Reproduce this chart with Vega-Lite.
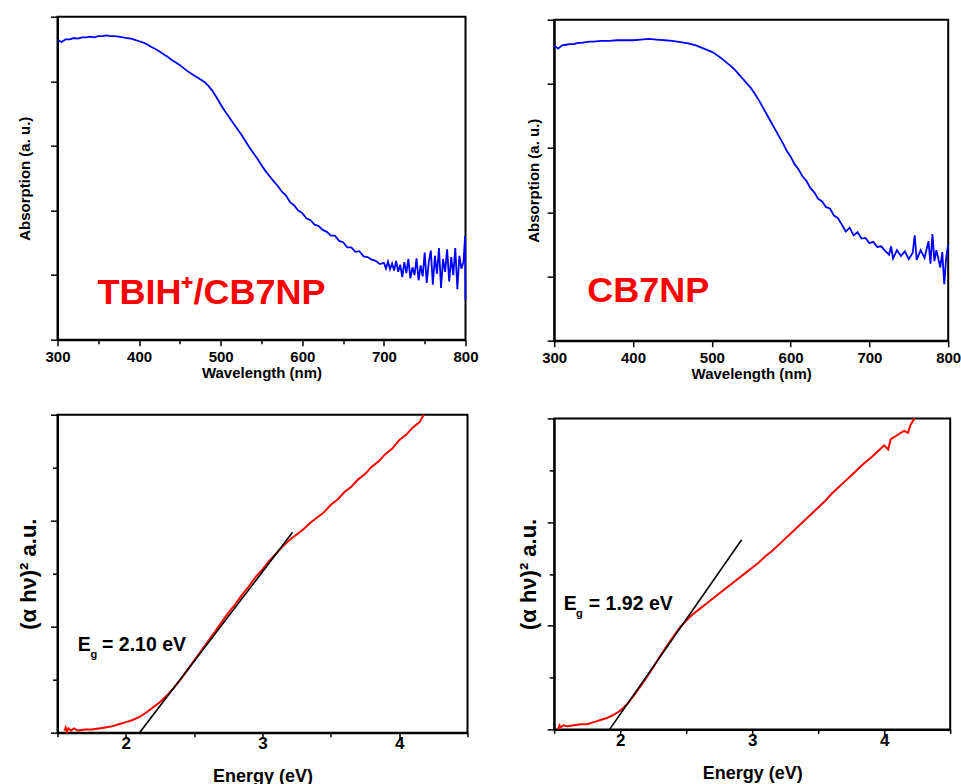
{
  "$schema": "https://vega.github.io/schema/vega-lite/v6.json",
  "padding": {"left": 15.5, "top": 14.7, "right": 0, "bottom": 0},
  "background": "white",
  "config": {
    "font": "Liberation Sans",
    "view": {"stroke": "black", "strokeWidth": 2},
    "axis": {"grid": false, "domainColor": "black", "domainWidth": 2, "tickColor": "black", "tickWidth": 1.5, "labelColor": "black", "titleColor": "black", "labelFontWeight": "bold", "titleFontWeight": "bold", "labelFont": "Liberation Sans", "titleFont": "Liberation Sans"}
  },
  "datasets": {
    "tl": [
      {"nm":300,"a":4.64},{"nm":305,"a":4.61},{"nm":310,"a":4.65},{"nm":315,"a":4.65},{"nm":320,"a":4.67},{"nm":325,"a":4.66},{"nm":330,"a":4.68},{"nm":335,"a":4.68},{"nm":340,"a":4.69},{"nm":345,"a":4.68},{"nm":350,"a":4.70},{"nm":355,"a":4.70},{"nm":360,"a":4.71},{"nm":365,"a":4.70},{"nm":370,"a":4.70},{"nm":375,"a":4.69},{"nm":380,"a":4.68},{"nm":385,"a":4.67},{"nm":390,"a":4.66},{"nm":395,"a":4.64},{"nm":400,"a":4.62},{"nm":405,"a":4.60},{"nm":410,"a":4.57},{"nm":415,"a":4.53},{"nm":420,"a":4.50},{"nm":425,"a":4.46},{"nm":430,"a":4.42},{"nm":435,"a":4.38},{"nm":440,"a":4.33},{"nm":445,"a":4.29},{"nm":450,"a":4.25},{"nm":455,"a":4.20},{"nm":460,"a":4.15},{"nm":465,"a":4.11},{"nm":470,"a":4.07},{"nm":475,"a":4.03},{"nm":480,"a":3.99},{"nm":485,"a":3.93},{"nm":490,"a":3.85},{"nm":495,"a":3.75},{"nm":500,"a":3.64},{"nm":505,"a":3.54},{"nm":510,"a":3.45},{"nm":515,"a":3.36},{"nm":520,"a":3.27},{"nm":525,"a":3.18},{"nm":530,"a":3.08},{"nm":535,"a":2.98},{"nm":540,"a":2.89},{"nm":545,"a":2.80},{"nm":550,"a":2.70},{"nm":555,"a":2.61},{"nm":560,"a":2.53},{"nm":565,"a":2.45},{"nm":570,"a":2.38},{"nm":575,"a":2.29},{"nm":580,"a":2.23},{"nm":585,"a":2.13},{"nm":590,"a":2.08},{"nm":595,"a":2.00},{"nm":600,"a":1.96},{"nm":605,"a":1.88},{"nm":610,"a":1.85},{"nm":615,"a":1.78},{"nm":620,"a":1.76},{"nm":625,"a":1.70},{"nm":630,"a":1.67},{"nm":635,"a":1.61},{"nm":640,"a":1.61},{"nm":645,"a":1.53},{"nm":650,"a":1.51},{"nm":655,"a":1.43},{"nm":660,"a":1.43},{"nm":665,"a":1.36},{"nm":670,"a":1.37},{"nm":675,"a":1.29},{"nm":680,"a":1.28},{"nm":685,"a":1.24},{"nm":690,"a":1.22},{"nm":695,"a":1.17},{"nm":700,"a":1.19},
      {"nm":702.5,"a":1.10},{"nm":705,"a":1.21},{"nm":707.5,"a":1.09},{"nm":710,"a":1.18},{"nm":712.5,"a":1.07},{"nm":715,"a":1.22},{"nm":717.5,"a":1.05},{"nm":720,"a":1.16},{"nm":722.5,"a":0.97},{"nm":725,"a":1.20},{"nm":727.5,"a":1.03},{"nm":730,"a":1.25},{"nm":732.5,"a":0.95},{"nm":735,"a":1.12},{"nm":737.5,"a":1.00},{"nm":740,"a":1.26},{"nm":742.5,"a":0.92},{"nm":745,"a":1.15},{"nm":747.5,"a":0.98},{"nm":750,"a":1.35},{"nm":752.5,"a":0.88},{"nm":755,"a":1.20},{"nm":757.5,"a":1.38},{"nm":760,"a":0.85},{"nm":762.5,"a":1.30},{"nm":765,"a":1.02},{"nm":767.5,"a":1.42},{"nm":770,"a":0.80},{"nm":772.5,"a":1.25},{"nm":775,"a":1.05},{"nm":777.5,"a":1.40},{"nm":780,"a":0.90},{"nm":782.5,"a":1.28},{"nm":785,"a":1.00},{"nm":787.5,"a":1.42},{"nm":790,"a":0.78},{"nm":792.5,"a":1.30},{"nm":795,"a":1.10},{"nm":797.5,"a":1.20},{"nm":799.5,"a":1.60},{"nm":800,"a":0.62}
    ],
    "tr": [
      {"nm":300,"a":4.60},{"nm":305,"a":4.55},{"nm":310,"a":4.60},{"nm":315,"a":4.61},{"nm":320,"a":4.62},{"nm":325,"a":4.62},{"nm":330,"a":4.64},{"nm":335,"a":4.64},{"nm":340,"a":4.65},{"nm":345,"a":4.66},{"nm":350,"a":4.66},{"nm":360,"a":4.67},{"nm":370,"a":4.67},{"nm":380,"a":4.68},{"nm":390,"a":4.68},{"nm":400,"a":4.68},{"nm":410,"a":4.69},{"nm":420,"a":4.70},{"nm":430,"a":4.69},{"nm":440,"a":4.68},{"nm":450,"a":4.67},{"nm":460,"a":4.65},{"nm":470,"a":4.63},{"nm":480,"a":4.60},{"nm":490,"a":4.55},{"nm":500,"a":4.50},{"nm":505,"a":4.46},{"nm":510,"a":4.42},{"nm":515,"a":4.37},{"nm":520,"a":4.32},{"nm":525,"a":4.27},{"nm":530,"a":4.21},{"nm":535,"a":4.14},{"nm":540,"a":4.07},{"nm":545,"a":4.00},{"nm":550,"a":3.93},{"nm":555,"a":3.84},{"nm":560,"a":3.74},{"nm":565,"a":3.63},{"nm":570,"a":3.52},{"nm":575,"a":3.41},{"nm":580,"a":3.30},{"nm":585,"a":3.19},{"nm":590,"a":3.08},{"nm":595,"a":2.96},{"nm":600,"a":2.87},{"nm":605,"a":2.75},{"nm":610,"a":2.67},{"nm":615,"a":2.56},{"nm":620,"a":2.49},{"nm":625,"a":2.38},{"nm":630,"a":2.31},{"nm":635,"a":2.21},{"nm":640,"a":2.17},{"nm":645,"a":2.08},{"nm":650,"a":2.06},{"nm":655,"a":1.95},{"nm":660,"a":1.91},{"nm":665,"a":1.81},{"nm":670,"a":1.70},{"nm":675,"a":1.76},{"nm":680,"a":1.64},{"nm":685,"a":1.69},{"nm":690,"a":1.59},{"nm":695,"a":1.60},{"nm":700,"a":1.52},{"nm":705,"a":1.54},{"nm":710,"a":1.46},{"nm":715,"a":1.47},{"nm":720,"a":1.40},{"nm":725,"a":1.34},{"nm":727.5,"a":1.47},{"nm":730,"a":1.28},{"nm":735,"a":1.41},{"nm":740,"a":1.32},{"nm":745,"a":1.39},{"nm":750,"a":1.27},{"nm":755,"a":1.37},{"nm":757.5,"a":1.64},{"nm":760,"a":1.26},{"nm":765,"a":1.41},{"nm":770,"a":1.29},{"nm":775,"a":1.55},{"nm":777.5,"a":1.20},{"nm":780,"a":1.66},{"nm":782.5,"a":1.24},{"nm":785,"a":1.41},{"nm":790,"a":1.14},{"nm":792.5,"a":1.38},{"nm":795,"a":0.88},{"nm":797.5,"a":1.30},{"nm":800,"a":1.50}
    ],
    "bl": [
      {"e":1.55,"v":0.02},{"e":1.56,"v":0.05},{"e":1.57,"v":0.01},{"e":1.58,"v":0.04},{"e":1.60,"v":0.02},{"e":1.62,"v":0.04},{"e":1.65,"v":0.02},{"e":1.70,"v":0.03},{"e":1.75,"v":0.03},{"e":1.80,"v":0.04},{"e":1.85,"v":0.05},{"e":1.90,"v":0.06},{"e":1.95,"v":0.08},{"e":2.00,"v":0.10},{"e":2.05,"v":0.12},{"e":2.10,"v":0.15},{"e":2.15,"v":0.19},{"e":2.20,"v":0.24},{"e":2.25,"v":0.29},{"e":2.30,"v":0.35},{"e":2.35,"v":0.42},{"e":2.40,"v":0.50},{"e":2.45,"v":0.59},{"e":2.50,"v":0.68},{"e":2.55,"v":0.77},{"e":2.60,"v":0.86},{"e":2.65,"v":0.95},{"e":2.70,"v":1.04},{"e":2.75,"v":1.13},{"e":2.80,"v":1.21},{"e":2.85,"v":1.30},{"e":2.90,"v":1.38},{"e":2.95,"v":1.47},{"e":3.00,"v":1.54},{"e":3.05,"v":1.62},{"e":3.10,"v":1.69},{"e":3.15,"v":1.76},{"e":3.20,"v":1.82},{"e":3.25,"v":1.87},{"e":3.30,"v":1.92},{"e":3.35,"v":1.98},{"e":3.40,"v":2.03},{"e":3.45,"v":2.08},{"e":3.50,"v":2.15},{"e":3.55,"v":2.20},{"e":3.60,"v":2.27},{"e":3.65,"v":2.32},{"e":3.70,"v":2.39},{"e":3.75,"v":2.44},{"e":3.80,"v":2.51},{"e":3.85,"v":2.56},{"e":3.90,"v":2.63},{"e":3.95,"v":2.68},{"e":4.00,"v":2.76},{"e":4.05,"v":2.81},{"e":4.10,"v":2.88},{"e":4.15,"v":2.93},{"e":4.18,"v":3.00}
    ],
    "br": [
      {"e":1.53,"v":0.00},{"e":1.54,"v":0.04},{"e":1.55,"v":0.02},{"e":1.57,"v":0.04},{"e":1.60,"v":0.03},{"e":1.65,"v":0.04},{"e":1.70,"v":0.05},{"e":1.75,"v":0.05},{"e":1.80,"v":0.07},{"e":1.85,"v":0.09},{"e":1.90,"v":0.11},{"e":1.95,"v":0.14},{"e":2.00,"v":0.18},{"e":2.05,"v":0.24},{"e":2.10,"v":0.32},{"e":2.15,"v":0.41},{"e":2.20,"v":0.50},{"e":2.25,"v":0.60},{"e":2.30,"v":0.70},{"e":2.35,"v":0.80},{"e":2.40,"v":0.89},{"e":2.45,"v":0.98},{"e":2.50,"v":1.05},{"e":2.55,"v":1.11},{"e":2.60,"v":1.16},{"e":2.65,"v":1.21},{"e":2.70,"v":1.26},{"e":2.75,"v":1.31},{"e":2.80,"v":1.36},{"e":2.85,"v":1.41},{"e":2.90,"v":1.46},{"e":2.95,"v":1.51},{"e":3.00,"v":1.56},{"e":3.05,"v":1.61},{"e":3.10,"v":1.67},{"e":3.15,"v":1.72},{"e":3.20,"v":1.78},{"e":3.25,"v":1.84},{"e":3.30,"v":1.90},{"e":3.35,"v":1.96},{"e":3.40,"v":2.02},{"e":3.45,"v":2.08},{"e":3.50,"v":2.14},{"e":3.55,"v":2.20},{"e":3.60,"v":2.27},{"e":3.65,"v":2.33},{"e":3.70,"v":2.39},{"e":3.75,"v":2.45},{"e":3.80,"v":2.51},{"e":3.85,"v":2.57},{"e":3.90,"v":2.62},{"e":3.95,"v":2.68},{"e":4.00,"v":2.74},{"e":4.03,"v":2.70},{"e":4.05,"v":2.80},{"e":4.10,"v":2.84},{"e":4.15,"v":2.88},{"e":4.18,"v":2.86},{"e":4.20,"v":2.94},{"e":4.23,"v":3.00}
    ],
    "blfit": [{"e":2.10,"v":0},{"e":3.22,"v":1.89}],
    "brfit": [{"e":1.92,"v":0},{"e":2.92,"v":1.83}],
    "tllab": [{"nm":349,"a":0.55,"t":"TBIH⁺/CB7NP"}],
    "trlab": [{"nm":342,"a":0.60,"t":"CB7NP"}],
    "blE": [{"e":1.649,"v":0.771,"t":"E"},{"e":1.826,"v":0.771,"t":"= 2.10 eV"}],
    "blg": [{"e":1.741,"v":0.705,"t":"g"}],
    "brE": [{"e":1.572,"v":1.153,"t":"E"},{"e":1.762,"v":1.153,"t":"= 1.92 eV"}],
    "brg": [{"e":1.665,"v":1.083,"t":"g"}],
    "blank": [{}]
  },
  "spacing": 35.7,
  "hconcat": [
    {
      "spacing": 28,
      "vconcat": [
        {
          "width": 408, "height": 323,
          "layer": [
            {
              "data": {"name": "tl"},
              "mark": {"type": "line", "color": "#0000ff", "strokeWidth": 1.8},
              "encoding": {
                "x": {"field": "nm", "type": "quantitative", "scale": {"domain": [300, 800], "nice": false},
                  "axis": {"title": "Wavelength (nm)", "values": [300,350,400,450,500,550,600,650,700,750,800], "labelExpr": "datum.value % 100 === 0 ? datum.label : ''", "tickSize": {"condition": {"test": "datum.value % 100 === 0", "value": 6}, "value": 4}, "labelFontSize": 15, "titleFontSize": 15, "labelPadding": 4, "titlePadding": 1, "labelFlush": false}},
                "y": {"field": "a", "type": "quantitative", "scale": {"domain": [0, 5], "nice": false},
                  "axis": {"title": "Absorption (a. u.)", "values": [0,0.5,1,1.5,2,2.5,3,3.5,4,4.5,5], "labels": false, "tickSize": {"condition": {"test": "datum.value % 1 === 0", "value": 7}, "value": 5}, "titleFontSize": 15, "titlePadding": 17.5}}
              }
            },
            {
              "data": {"name": "tllab"},
              "mark": {"type": "text", "color": "#ff0000", "fontSize": 36, "fontWeight": "bold", "align": "left", "baseline": "alphabetic"},
              "encoding": {"x": {"field": "nm", "type": "quantitative"}, "y": {"field": "a", "type": "quantitative"}, "text": {"field": "t"}}
            }
          ]
        },
        {
          "width": 410, "height": 318,
          "layer": [
            {
              "data": {"name": "bl"},
              "mark": {"type": "line", "color": "#ff0000", "strokeWidth": 2},
              "encoding": {
                "x": {"field": "e", "type": "quantitative", "scale": {"domain": [1.5, 4.5], "nice": false},
                  "axis": {"title": "Energy (eV)", "values": [1.5,2,2.5,3,3.5,4,4.5], "labelExpr": "datum.value % 1 === 0 ? format(datum.value, 'd') : ''", "tickSize": {"condition": {"test": "datum.value % 1 === 0", "value": 6}, "value": 4}, "labelFontSize": 17, "titleFontSize": 18, "labelPadding": -3, "titlePadding": 16, "labelFlush": false}},
                "y": {"field": "v", "type": "quantitative", "scale": {"domain": [0, 3], "nice": false},
                  "axis": {"title": "(α hν)² a.u.", "values": [0,0.5,1,1.5,2,2.5,3], "labels": false, "tickSize": {"condition": {"test": "datum.value % 1 === 0", "value": 7}, "value": 5}, "titleFontSize": 22, "titlePadding": 9}}
              }
            },
            {
              "data": {"name": "blfit"},
              "mark": {"type": "line", "color": "black", "strokeWidth": 1.6},
              "encoding": {"x": {"field": "e", "type": "quantitative"}, "y": {"field": "v", "type": "quantitative"}}
            },
            {
              "data": {"name": "blE"},
              "mark": {"type": "text", "color": "black", "fontSize": 19.5, "fontWeight": "bold", "align": "left", "baseline": "alphabetic"},
              "encoding": {"x": {"field": "e", "type": "quantitative"}, "y": {"field": "v", "type": "quantitative"}, "text": {"field": "t"}}
            },
            {
              "data": {"name": "blg"},
              "mark": {"type": "text", "color": "black", "fontSize": 11, "fontWeight": "bold", "align": "left", "baseline": "alphabetic"},
              "encoding": {"x": {"field": "e", "type": "quantitative"}, "y": {"field": "v", "type": "quantitative"}, "text": {"field": "t"}}
            }
          ]
        }
      ]
    },
    {
      "spacing": 30.7,
      "vconcat": [
        {
          "spacing": 0,
          "vconcat": [
            {
              "width": 394, "height": 1,
              "view": {"stroke": null},
              "data": {"name": "blank"},
              "mark": {"type": "point", "size": 0, "opacity": 0},
              "encoding": {}
            },
            {
              "width": 394, "height": 321,
              "layer": [
                {
                  "data": {"name": "tr"},
                  "mark": {"type": "line", "color": "#0000ff", "strokeWidth": 1.8},
                  "encoding": {
                    "x": {"field": "nm", "type": "quantitative", "scale": {"domain": [300, 800], "nice": false},
                      "axis": {"title": "Wavelength (nm)", "values": [300,350,400,450,500,550,600,650,700,750,800], "labelExpr": "datum.value % 100 === 0 ? datum.label : ''", "tickSize": {"condition": {"test": "datum.value % 100 === 0", "value": 6}, "value": 4}, "labelFontSize": 15, "titleFontSize": 15, "labelPadding": 4, "titlePadding": 1, "labelFlush": false}},
                    "y": {"field": "a", "type": "quantitative", "scale": {"domain": [0, 5], "nice": false},
                      "axis": {"title": "Absorption (a. u.)", "values": [0,0.5,1,1.5,2,2.5,3,3.5,4,4.5,5], "labels": false, "tickSize": {"condition": {"test": "datum.value % 1 === 0", "value": 7}, "value": 5}, "titleFontSize": 15, "titlePadding": 5}}
                  }
                },
                {
                  "data": {"name": "trlab"},
                  "mark": {"type": "text", "color": "#ff0000", "fontSize": 36, "fontWeight": "bold", "align": "left", "baseline": "alphabetic"},
                  "encoding": {"x": {"field": "nm", "type": "quantitative"}, "y": {"field": "a", "type": "quantitative"}, "text": {"field": "t"}}
                }
              ]
            }
          ]
        },
        {
          "width": 396, "height": 311,
          "layer": [
            {
              "data": {"name": "br"},
              "mark": {"type": "line", "color": "#ff0000", "strokeWidth": 2},
              "encoding": {
                "x": {"field": "e", "type": "quantitative", "scale": {"domain": [1.5, 4.5], "nice": false},
                  "axis": {"title": "Energy (eV)", "values": [1.5,2,2.5,3,3.5,4,4.5], "labelExpr": "datum.value % 1 === 0 ? format(datum.value, 'd') : ''", "tickSize": {"condition": {"test": "datum.value % 1 === 0", "value": 6}, "value": 4}, "labelFontSize": 17, "titleFontSize": 18, "labelPadding": -3, "titlePadding": 16, "labelFlush": false}},
                "y": {"field": "v", "type": "quantitative", "scale": {"domain": [0, 3], "nice": false},
                  "axis": {"title": "(α hν)² a.u.", "values": [0,0.5,1,1.5,2,2.5,3], "labels": false, "tickSize": {"condition": {"test": "datum.value % 1 === 0", "value": 7}, "value": 5}, "titleFontSize": 22, "titlePadding": 6.3}}
              }
            },
            {
              "data": {"name": "brfit"},
              "mark": {"type": "line", "color": "black", "strokeWidth": 1.6},
              "encoding": {"x": {"field": "e", "type": "quantitative"}, "y": {"field": "v", "type": "quantitative"}}
            },
            {
              "data": {"name": "brE"},
              "mark": {"type": "text", "color": "black", "fontSize": 19.5, "fontWeight": "bold", "align": "left", "baseline": "alphabetic"},
              "encoding": {"x": {"field": "e", "type": "quantitative"}, "y": {"field": "v", "type": "quantitative"}, "text": {"field": "t"}}
            },
            {
              "data": {"name": "brg"},
              "mark": {"type": "text", "color": "black", "fontSize": 11, "fontWeight": "bold", "align": "left", "baseline": "alphabetic"},
              "encoding": {"x": {"field": "e", "type": "quantitative"}, "y": {"field": "v", "type": "quantitative"}, "text": {"field": "t"}}
            }
          ]
        }
      ]
    }
  ]
}
